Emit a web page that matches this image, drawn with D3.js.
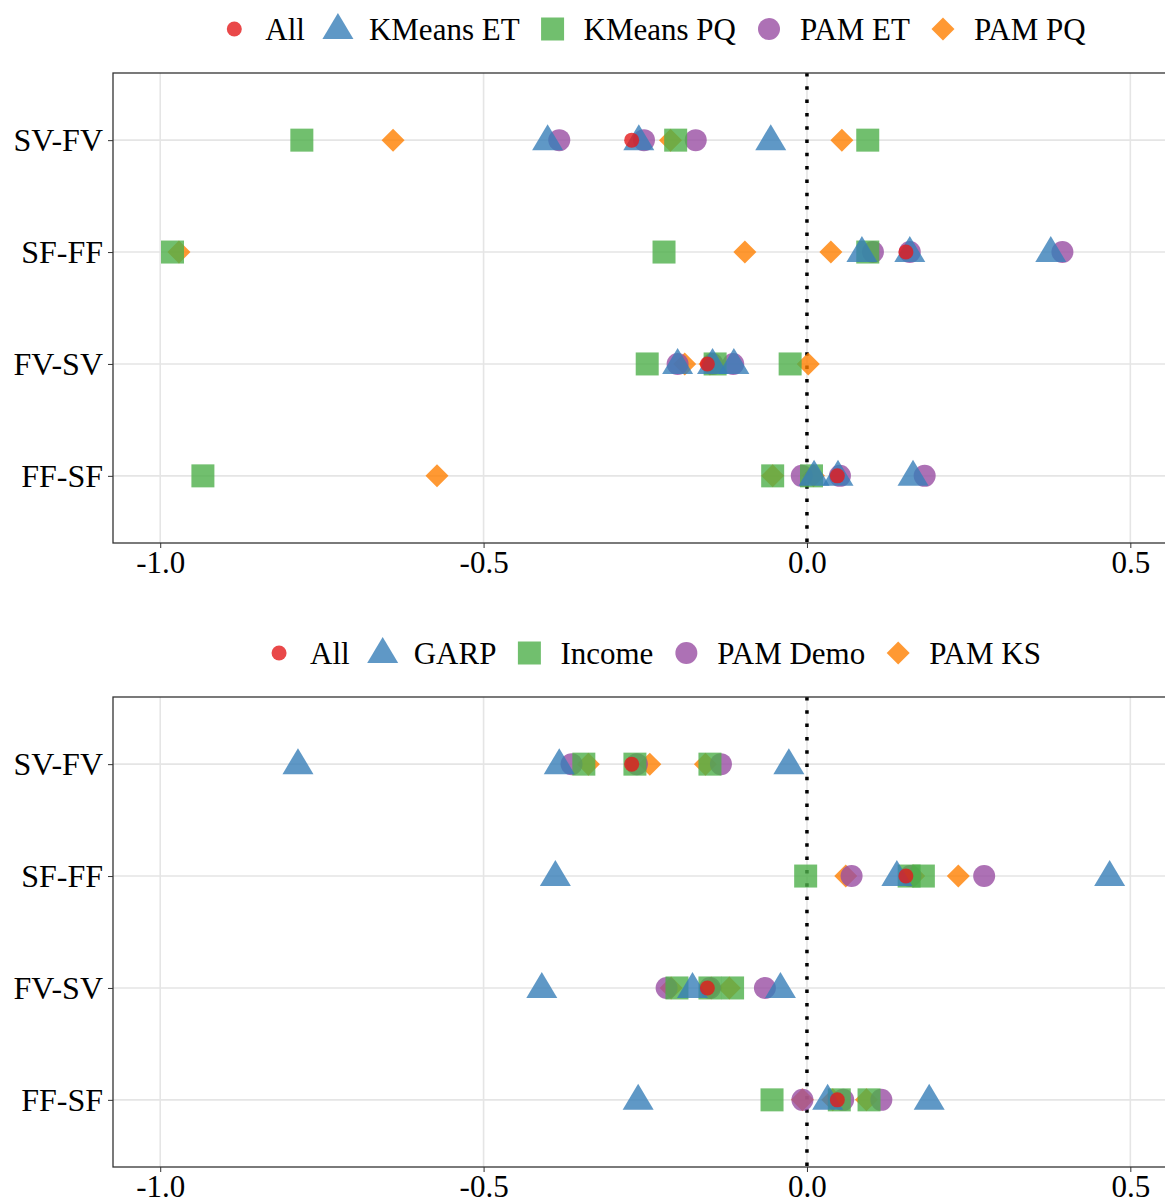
<!DOCTYPE html>
<html>
<head>
<meta charset="utf-8">
<script src="https://cdn.jsdelivr.net/npm/d3@7"></script>
<style>
  body { margin: 0; background: #fff; }
  text { font-family: "Liberation Serif", "Times New Roman", serif; fill: #000; }
</style>
</head>
<body>
<script>
const rows = ['SV-FV', 'SF-FF', 'FV-SV', 'FF-SF']
const xTicks = [-1.0, -0.5, 0.0, 0.5]
const xTickLabels = ['-1.0', '-0.5', '0.0', '0.5']

// top panel: one value for All, three values per row for the rest
const topNames = ['All', 'KMeans ET', 'KMeans PQ', 'PAM ET', 'PAM PQ']
const topAll = [-0.271, 0.153, -0.154, 0.047]
const topKMeansET = [[-0.401, -0.260, -0.056], [0.085, 0.159, 0.377], [-0.200, -0.146, -0.113], [0.011, 0.048, 0.164]]
const topKMeansPQ = [[-0.781, -0.203, 0.094], [-0.981, -0.221, 0.094], [-0.247, -0.142, -0.026], [-0.934, -0.053, 0.007]]
const topPamET = [[-0.383, -0.252, -0.172], [0.102, 0.159, 0.395], [-0.200, -0.146, -0.114], [-0.008, 0.051, 0.182]]
const topPamPQ = [[-0.640, -0.211, 0.054], [-0.971, -0.096, 0.037], [-0.189, -0.150, 0.002], [-0.572, -0.053, 0.010]]

// bottom panel
const botNames = ['All', 'GARP', 'Income', 'PAM Demo', 'PAM KS']
const botAll = [-0.271, 0.153, -0.154, 0.047]
const botGarp = [[-0.787, -0.383, -0.028], [-0.389, 0.139, 0.468], [-0.410, -0.177, -0.041], [-0.261, 0.032, 0.189]]
const botIncome = [[-0.345, -0.266, -0.150], [-0.002, 0.158, 0.180], [-0.201, -0.150, -0.115], [-0.054, 0.050, 0.096]]
const botPamDemo = [[-0.364, -0.263, -0.133], [0.069, 0.160, 0.274], [-0.217, -0.150, -0.065], [-0.007, 0.056, 0.115]]
const botPamKS = [[-0.338, -0.243, -0.157], [0.060, 0.165, 0.234], [-0.210, -0.148, -0.120], [-0.007, 0.040, 0.092]]

const colors = ['#E41A1C', '#377EB8', '#4DAF4A', '#984EA3', '#FF7F00']
const shapes = ['dot', 'triangle', 'square', 'circle', 'diamond']
// drawing order of the series (diamonds at the back, All in front)
const drawOrder = [4, 3, 2, 1, 0]

const width = 1165
const height = 1203
const fontSize = 31

const svg = d3.select('body').append('svg')
  .attr('width', width)
  .attr('height', height)

function shapePath(s) {
  if (s === 'dot') return 'M-7.5,0a7.5,7.5 0 1,0 15,0a7.5,7.5 0 1,0 -15,0'
  if (s === 'circle') return 'M-11,0a11,11 0 1,0 22,0a11,11 0 1,0 -22,0'
  if (s === 'triangle') return 'M0,-16L15.5,10L-15.5,10Z'
  if (s === 'square') return 'M-11.5,-11.5H11.5V11.5H-11.5Z'
  return 'M0,-11.5L11.5,0L0,11.5L-11.5,0Z'
}

function panel(top, bottom, legendY, names, all, series) {
  const x = d3.scaleLinear().domain([-1.073, 0.6]).range([113, 1195])
  const y = d3.scalePoint().domain(rows).range([top, bottom]).padding(0.6)
  const g = svg.append('g')

  // grid
  g.selectAll('.vg').data(xTicks).enter().append('line')
    .attr('x1', d => x(d)).attr('x2', d => x(d))
    .attr('y1', top).attr('y2', bottom)
    .attr('stroke', '#e5e5e5').attr('stroke-width', 1.6)
  g.selectAll('.hg').data(rows).enter().append('line')
    .attr('x1', x.range()[0]).attr('x2', x.range()[1])
    .attr('y1', d => y(d)).attr('y2', d => y(d))
    .attr('stroke', '#e5e5e5').attr('stroke-width', 1.6)

  // zero line
  g.append('line')
    .attr('x1', x(0)).attr('x2', x(0)).attr('y1', top).attr('y2', bottom)
    .attr('stroke', '#000').attr('stroke-width', 3.5)
    .attr('stroke-dasharray', '3.5,9.8')

  const bySeries = [all.map(v => [v])].concat(series)
  const pts = []
  drawOrder.forEach(k => {
    bySeries[k].forEach((vals, r) => vals.forEach(v => pts.push({ k, row: rows[r], v })))
  })

  g.selectAll('.pt').data(pts).enter().append('path')
    .attr('transform', d => `translate(${x(d.v)},${y(d.row)})`)
    .attr('d', d => shapePath(shapes[d.k]))
    .attr('fill', d => colors[d.k])
    .attr('fill-opacity', 0.8)

  // frame
  g.append('rect')
    .attr('x', x.range()[0]).attr('y', top)
    .attr('width', x.range()[1] - x.range()[0]).attr('height', bottom - top)
    .attr('fill', 'none').attr('stroke', '#333').attr('stroke-width', 1.3)

  // axes
  const xa = g.append('g').attr('transform', `translate(0,${bottom})`)
    .call(d3.axisBottom(x).tickValues(xTicks).tickFormat((d, i) => xTickLabels[i]).tickSize(5).tickPadding(3))
  xa.select('.domain').remove()
  xa.selectAll('text').attr('font-size', fontSize).style('fill', '#000')
    .attr('font-family', '"Liberation Serif", serif')
  xa.selectAll('line').attr('stroke', '#333')

  const ya = g.append('g').attr('transform', `translate(${x.range()[0]},0)`)
    .call(d3.axisLeft(y).tickSize(5).tickPadding(5))
  ya.select('.domain').remove()
  ya.selectAll('text').attr('font-size', 32).style('fill', '#000')
    .attr('font-family', '"Liberation Serif", serif')
  ya.selectAll('line').attr('stroke', '#333')

  // legend
  const lg = svg.append('g')
  const items = lg.selectAll('.li').data(names).enter().append('g')
  items.append('path')
    .attr('d', (d, i) => shapePath(shapes[i]))
    .attr('fill', (d, i) => colors[i])
    .attr('fill-opacity', 0.8)
  items.append('text')
    .attr('x', 31).attr('dy', '0.35em')
    .attr('font-size', fontSize)
    .text(d => d)
  let cx = 0
  const pos = []
  items.each(function () {
    const w = d3.select(this).select('text').node().getComputedTextLength()
    pos.push(cx)
    cx += 31 + w + 33
  })
  const total = cx - 33 + 12
  const start = 654 - total / 2 + 12
  items.attr('transform', (d, i) => `translate(${start + pos[i]},${legendY})`)
}

panel(73, 543, 29, topNames, topAll, [topKMeansET, topKMeansPQ, topPamET, topPamPQ])
panel(697, 1167, 653, botNames, botAll, [botGarp, botIncome, botPamDemo, botPamKS])
</script>
</body>
</html>
